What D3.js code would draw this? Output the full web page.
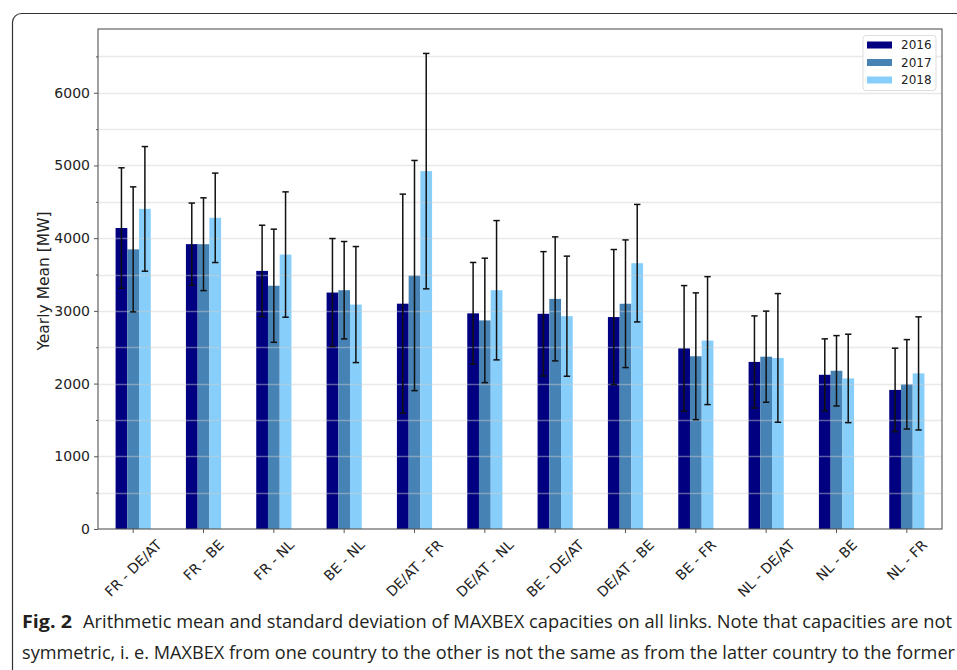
<!DOCTYPE html>
<html>
<head>
<meta charset="utf-8">
<script src="https://cdn.jsdelivr.net/npm/d3@7"></script>
<style>
  html, body { margin: 0; padding: 0; background: #fff; }
  svg { display: block; }
</style>
</head>
<body>
<svg id="fig" width="957" height="670"></svg>
<script>
// Links (from - to) between bidding zones
const links = ["FR - DE/AT", "FR - BE", "FR - NL", "BE - NL", "DE/AT - FR", "DE/AT - NL",
               "BE - DE/AT", "DE/AT - BE", "BE - FR", "NL - DE/AT", "NL - BE", "NL - FR"];
const years = ["2016", "2017", "2018"];

// Yearly mean MAXBEX capacity [MW]
const mean2016 = [4140, 3918, 3550, 3252, 3099, 2966, 2960, 2915, 2484, 2298, 2121, 1913];
const mean2017 = [3846, 3917, 3346, 3284, 3486, 2869, 3165, 3098, 2376, 2370, 2176, 1990];
const mean2018 = [4403, 4280, 3775, 3087, 4922, 3284, 2927, 3656, 2591, 2353, 2071, 2140];

// Standard deviation [MW]
const std2016 = [828, 565, 628, 743, 1507, 700, 855, 929, 864, 633, 494, 574];
const std2017 = [860, 638, 778, 670, 1583, 856, 853, 878, 872, 627, 484, 615];
const std2018 = [857, 615, 862, 798, 1619, 958, 826, 808, 880, 885, 608, 778];

const yTicks = [0, 1000, 2000, 3000, 4000, 5000, 6000];
const yMinor = [500, 1500, 2500, 3500, 4500, 5500, 6500];
const yMax = 6877;

const colors = ["#000080", "#4682b4", "#87cefa"];

const captionBold = "Fig. 2";
const captionLine1 = "Arithmetic mean and standard deviation of MAXBEX capacities on all links. Note that capacities are not";
const captionLine2 = "symmetric, i. e. MAXBEX from one country to the other is not the same as from the latter country to the former";

const meansByYear = [mean2016, mean2017, mean2018];
const stdsByYear = [std2016, std2017, std2018];

const svg = d3.select("#fig");
const font = "'DejaVu Sans', sans-serif";

// Figure frame (rounded box running off the page)
svg.append("rect")
  .attr("x", 12.5).attr("y", 13.5)
  .attr("width", 1100).attr("height", 1000)
  .attr("rx", 9).attr("ry", 9)
  .attr("fill", "none").attr("stroke", "#333").attr("stroke-width", 1.2);

const plot = { left: 98, top: 29, right: 942, bottom: 529 };

const x = d3.scaleBand()
  .domain(links)
  .range([plot.left, plot.right])
  .paddingInner(0).paddingOuter(0);
const step = x.bandwidth();
const barW = step * 0.5 / 3;

const y = d3.scaleLinear().domain([0, yMax]).range([plot.bottom, plot.top]);

// Bars
const g = svg.append("g");
years.forEach((yr, k) => {
  g.append("g").selectAll("rect")
    .data(links.map((l, i) => ({ l, v: meansByYear[k][i] })))
    .join("rect")
    .attr("x", d => x(d.l) + step / 2 + (k - 1.5) * barW)
    .attr("y", d => y(d.v))
    .attr("width", barW)
    .attr("height", d => y(0) - y(d.v))
    .attr("fill", colors[k]);
});

// Grid lines (drawn translucent over the bars)
const grid = svg.append("g");
yTicks.concat(yMinor).forEach(v => {
  if (v === 0) return;
  grid.append("line")
    .attr("x1", plot.left).attr("x2", plot.right)
    .attr("y1", Math.round(y(v)) + 0.5).attr("y2", Math.round(y(v)) + 0.5)
    .attr("stroke", "#cfcfcf").attr("stroke-opacity", 0.45).attr("stroke-width", 1.4);
});

// Error bars
const eb = svg.append("g").attr("stroke", "#111").attr("stroke-width", 1.5);
years.forEach((yr, k) => {
  links.forEach((l, i) => {
    const cx = x(l) + step / 2 + (k - 1) * barW;
    const m = meansByYear[k][i], s = stdsByYear[k][i];
    eb.append("line").attr("x1", cx).attr("x2", cx).attr("y1", y(m - s)).attr("y2", y(m + s));
    [m - s, m + s].forEach(v => {
      eb.append("line").attr("x1", cx - 3.2).attr("x2", cx + 3.2).attr("y1", y(v)).attr("y2", y(v));
    });
  });
});

// Axes frame
svg.append("rect")
  .attr("x", plot.left).attr("y", plot.top)
  .attr("width", plot.right - plot.left).attr("height", plot.bottom - plot.top)
  .attr("fill", "none").attr("stroke", "#555").attr("stroke-width", 1.1);

// Y axis
const yAxis = d3.axisLeft(y).tickValues(yTicks).tickSize(4).tickPadding(4).tickFormat(d3.format("d"));
const ya = svg.append("g").attr("transform", `translate(${plot.left},0)`).call(yAxis);
ya.select(".domain").remove();
ya.selectAll("line").attr("stroke", "#555");
ya.selectAll("text").attr("font-family", font).attr("font-size", 14).attr("fill", "#222");
const yMinorAxis = d3.axisLeft(y).tickValues(yMinor).tickSize(2).tickFormat("");
const ym = svg.append("g").attr("transform", `translate(${plot.left},0)`).call(yMinorAxis);
ym.select(".domain").remove();
ym.selectAll("line").attr("stroke", "#555");

svg.append("text")
  .attr("transform", `translate(49,${(plot.top + plot.bottom) / 2 + 2}) rotate(-90)`)
  .attr("text-anchor", "middle")
  .attr("font-family", font).attr("font-size", 15.5).attr("fill", "#222")
  .text("Yearly Mean [MW]");

// X axis
const xAxis = d3.axisBottom(x).tickSize(4).tickFormat("");
const xa = svg.append("g").attr("transform", `translate(0,${plot.bottom})`).call(xAxis);
xa.select(".domain").remove();
xa.selectAll("line").attr("stroke", "#555");

// Rotated category labels, centred under each tick
const xl = svg.append("g");
links.forEach(l => {
  const t = xl.append("text")
    .attr("text-anchor", "middle")
    .attr("dominant-baseline", "central")
    .attr("font-family", font).attr("font-size", 14).attr("fill", "#222")
    .text(l);
  const len = t.node().getComputedTextLength();
  const half = (len + 15) * Math.SQRT1_2 / 2;
  t.attr("transform", `translate(${x(l) + step / 2},${plot.bottom + 8 + half}) rotate(-45)`);
});

// Legend
const lg = svg.append("g");
lg.append("rect")
  .attr("x", 863).attr("y", 35.5).attr("width", 73).attr("height", 55)
  .attr("rx", 3).attr("fill", "#fff").attr("fill-opacity", 0.85)
  .attr("stroke", "#ddd").attr("stroke-width", 1);
years.forEach((yr, k) => {
  const cy = 45 + k * 17.5;
  lg.append("rect").attr("x", 867).attr("y", cy - 3.5).attr("width", 25).attr("height", 7).attr("fill", colors[k]);
  lg.append("text").attr("x", 901).attr("y", cy)
    .attr("dominant-baseline", "central")
    .attr("font-family", font).attr("font-size", 12).attr("fill", "#222")
    .text(yr);
});

// Caption
const capFont = "'Liberation Sans Narrow', 'Open Sans', 'Noto Sans', sans-serif";
svg.append("text")
  .attr("x", 22).attr("y", 628)
  .attr("font-family", capFont).attr("font-size", 18).attr("font-weight", "bold").attr("fill", "#231f20")
  .attr("textLength", 50).attr("lengthAdjust", "spacingAndGlyphs")
  .text(captionBold);
svg.append("text")
  .attr("x", 83).attr("y", 628)
  .attr("font-family", capFont).attr("font-size", 18).attr("fill", "#231f20")
  .attr("textLength", 869).attr("lengthAdjust", "spacingAndGlyphs")
  .text(captionLine1);
svg.append("text")
  .attr("x", 22).attr("y", 659)
  .attr("font-family", capFont).attr("font-size", 18).attr("fill", "#231f20")
  .attr("textLength", 933).attr("lengthAdjust", "spacingAndGlyphs")
  .text(captionLine2);
</script>
</body>
</html>
